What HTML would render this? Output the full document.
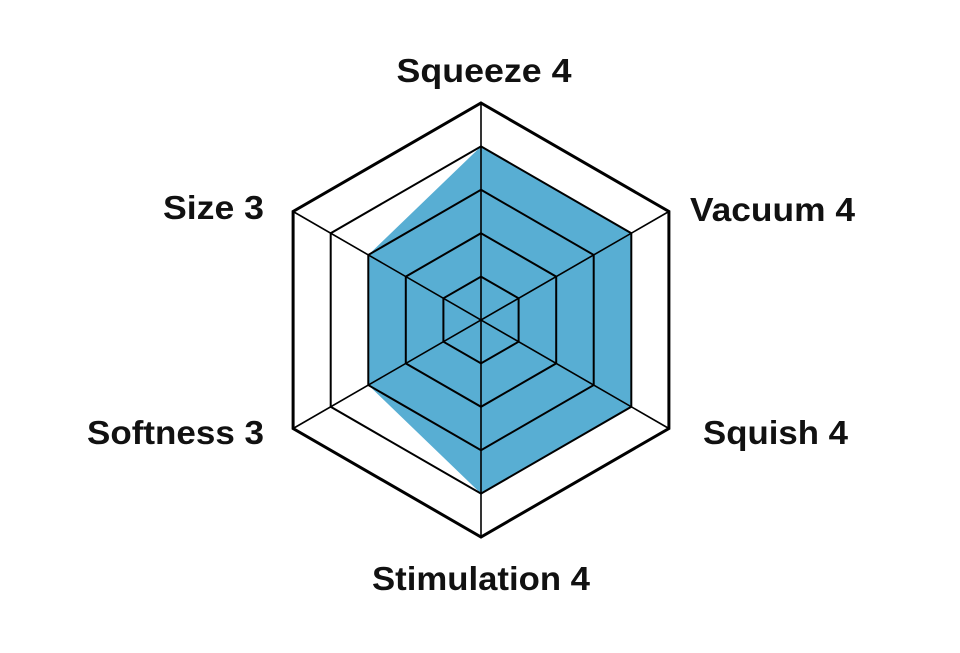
<!DOCTYPE html>
<html><head><style>html,body{margin:0;padding:0;background:#fff;width:960px;height:653px;overflow:hidden}</style></head>
<body>
<svg width="960" height="653" viewBox="0 0 960 653" xmlns="http://www.w3.org/2000/svg">
<polygon points="481,146.4 631.3,233.2 631.3,406.8 481,493.6 368.3,385 368.3,255" fill="#58aed3"/>
<g fill="none" stroke="#000">
<polygon points="481,103 668.9,211.5 668.9,428.5 481,537 293.1,428.5 293.1,211.5" stroke-width="3"/>
<polygon points="481,146.4 631.3,233.2 631.3,406.8 481,493.6 330.7,406.8 330.7,233.2" stroke-width="2"/>
<polygon points="481,189.8 593.7,254.9 593.7,385.1 481,450.2 368.3,385.1 368.3,254.9" stroke-width="2"/>
<polygon points="481,233.2 556.2,276.6 556.2,363.4 481,406.8 405.8,363.4 405.8,276.6" stroke-width="2"/>
<polygon points="481,276.6 518.6,298.3 518.6,341.7 481,363.4 443.4,341.7 443.4,298.3" stroke-width="2"/>
<line x1="481" y1="103" x2="481" y2="537" stroke-width="1.6"/>
<line x1="668.9" y1="211.5" x2="293.1" y2="428.5" stroke-width="1.6"/>
<line x1="668.9" y1="428.5" x2="293.1" y2="211.5" stroke-width="1.6"/>
</g>
<g font-family="Liberation Sans, Arial, sans-serif" font-size="33" font-weight="bold" fill="#111">
<text x="484" y="82" text-anchor="middle" textLength="175" lengthAdjust="spacingAndGlyphs">Squeeze 4</text>
<text x="264" y="219" text-anchor="end" textLength="101" lengthAdjust="spacingAndGlyphs">Size 3</text>
<text x="690" y="221" textLength="165" lengthAdjust="spacingAndGlyphs">Vacuum 4</text>
<text x="264" y="444" text-anchor="end" textLength="177" lengthAdjust="spacingAndGlyphs">Softness 3</text>
<text x="703" y="444" textLength="145" lengthAdjust="spacingAndGlyphs">Squish 4</text>
<text x="481" y="590" text-anchor="middle" textLength="218" lengthAdjust="spacingAndGlyphs">Stimulation 4</text>
</g>
</svg>
</body></html>
